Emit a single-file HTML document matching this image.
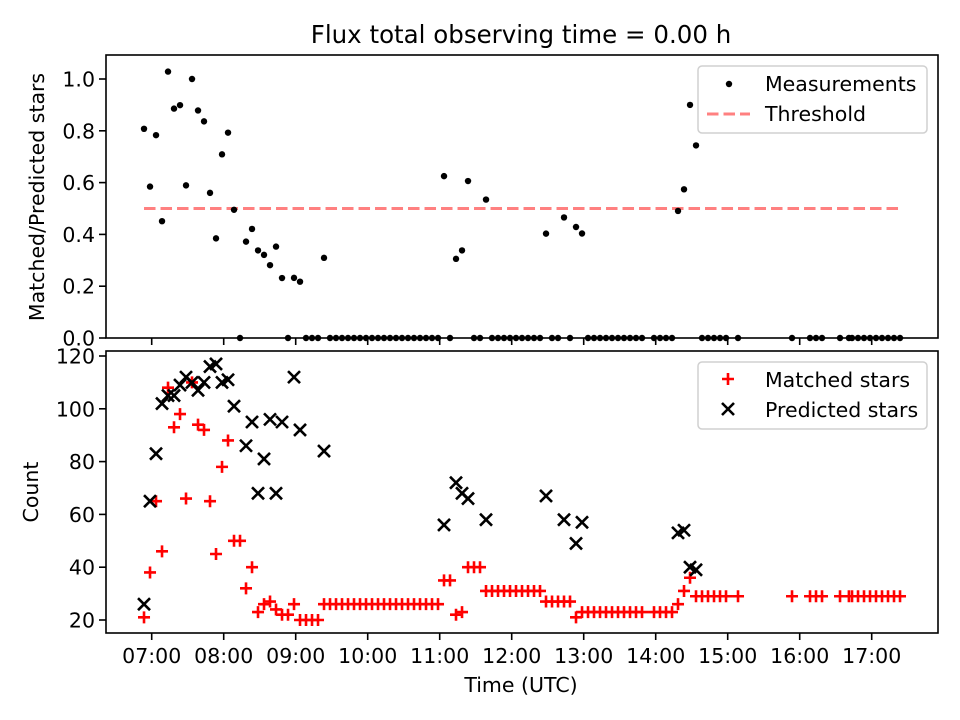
<!DOCTYPE html>
<html><head><meta charset="utf-8"><style>
html,body{margin:0;padding:0;background:#fff;}
svg{display:block;font-family:"DejaVu Sans","Liberation Sans",sans-serif;}
</style></head><body>
<svg id="chart" width="960" height="720" viewBox="0 0 960 720">
<rect width="960" height="720" fill="#fff"/>
<text x="521" y="43" font-size="24.5" text-anchor="middle">Flux total observing time = 0.00 h</text>
<g id="top"></g>
<g id="bottom"></g>
<text x="521" y="692" font-size="20.5" text-anchor="middle">Time (UTC)</text>
<text transform="translate(44,197) rotate(-90)" font-size="20.5" text-anchor="middle">Matched/Predicted stars</text>
<text transform="translate(38,492) rotate(-90)" font-size="20.5" text-anchor="middle">Count</text>
</svg>
<script>
// times in minutes after midnight (UTC)
const times = [413.6,418.6,423.6,428.6,433.6,438.6,443.6,448.6,453.6,458.6,463.6,468.6,473.6,478.6,483.6,488.6,493.6,498.6,503.6,508.6,513.6,518.6,523.6,528.6,533.6,538.6,543.6,548.6,553.6,558.6,563.6,
568.6,573.6,578.6,583.6,588.6,593.6,598.6,603.6,608.6,613.6,618.6,623.6,628.6,633.6,638.6,643.6,648.6,653.6,658.6,
663.6,668.6,673.6,678.6,683.6,688.6,693.6,698.6,703.6,708.6,713.6,718.6,723.6,728.6,733.6,738.6,743.6,748.6,753.6,758.6,763.6,768.6,773.6,778.6,783.6,788.6,793.6,798.6,803.6,808.6,813.6,818.6,823.6,828.6,
838.6,843.6,848.6,853.6,858.6,863.6,868.6,873.6,878.6,883.6,888.6,893.6,898.6,908.6,953.6,968.6,973.6,978.6,993.6,1001,1003.6,1008.6,1013.6,1018.6,1023.6,1028.6,1033.6,1038.6,1043.6];
const matched = [21,38,65,46,108,93,98,66,110,94,92,65,45,78,88,50,50,32,40,23,26,27,24,22,22,26,20,20,20,20,26,
26,26,26,26,26,26,26,26,26,26,26,26,26,26,26,26,26,26,26,
35,35,22,23,40,40,40,31,31,31,31,31,31,31,31,31,31,27,27,27,27,27,21,23,23,23,23,23,23,23,23,23,23,23,
23,23,23,23,26,31,36,29,29,29,29,29,29,29,29,29,29,29,29,29,29,29,29,29,29,29,29,29,29,29];
const predicted = [26,65,83,102,105,105,109,112,110,107,110,116,117,110,111,101,null,86,95,68,81,96,68,95,null,112,92,null,null,null,84,
null,null,null,null,null,null,null,null,null,null,null,null,null,null,null,null,null,null,null,
56,null,72,68,66,null,null,58,null,null,null,null,null,null,null,null,null,67,null,null,58,null,49,57,null,null,null,null,null,null,null,null,null,null,
null,null,null,null,53,54,40,39,null,null,null,null,null,null,null,null,null,null,null,null,null,null,null,null,null,null,null,null,null,null];
const threshold = [0.5];
const xTickLabels = ["07:00","08:00","09:00","10:00","11:00","12:00","13:00","14:00","15:00","16:00","17:00"];
const xTickMinutes = [420,480,540,600,660,720,780,840,900,960,1020];
const topYTicks = [0.0,0.2,0.4,0.6,0.8,1.0];
const botYTicks = [20,40,60,80,100,120];

const NS="http://www.w3.org/2000/svg";
const L=106,R=938;
const TT=55,TB=338,BT=351,BB=633;
const FS=20.5;
const xs = m => 151.7 + (m-420)*1.2;
const yTop = v => 338 - v*259;
const yBot = v => 620 - (v-20)*2.64;
function mk(tag,attrs,parent){const e=document.createElementNS(NS,tag);for(const k in attrs)e.setAttribute(k,attrs[k]);parent.appendChild(e);return e;}
const gT=document.getElementById('top'), gB=document.getElementById('bottom');

const th = mk('line',{x1:xs(times[0]),x2:xs(times[times.length-1]),y1:yTop(threshold[0]),y2:yTop(threshold[0]),stroke:'#ff8080','stroke-width':3,'stroke-dasharray':'11.5 5'},gT);



times.forEach((t,i)=>{
  const r = predicted[i]==null ? 0 : matched[i]/predicted[i];
  const c = mk('circle',{cx:xs(t),cy:yTop(r),r:3.2,fill:'#000'},gT);
  
  
});

times.forEach((t,i)=>{
  const x=xs(t),y=yBot(matched[i]);
  const p=mk('path',{d:`M${x-6},${y}H${x+6}M${x},${y-6}V${y+6}`,stroke:'#ff0000','stroke-width':2.6,fill:'none'},gB);
  
  
});
times.forEach((t,i)=>{
  if(predicted[i]==null)return;
  const x=xs(t),y=yBot(predicted[i]);
  const p=mk('path',{d:`M${x-6},${y-6}L${x+6},${y+6}M${x-6},${y+6}L${x+6},${y-6}`,stroke:'#000','stroke-width':2.6,fill:'none'},gB);
  
  
});

[[gT,TT,TB],[gB,BT,BB]].forEach(([g,t,b],k)=>{
  const f=mk('rect',{x:L,y:t,width:R-L,height:b-t,fill:'none',stroke:'#000','stroke-width':1.6},g);
  
  
  xTickMinutes.forEach((m,i)=>{
    const tk=mk('line',{x1:xs(m),x2:xs(m),y1:b,y2:b+7,stroke:'#000','stroke-width':1.6},g);
    
    
    if(k){
      const tx=mk('text',{x:xs(m),y:b+30,'font-size':FS,'text-anchor':'middle'},g);
      tx.textContent=xTickLabels[i];
      
      
    }
  });
});
topYTicks.forEach(v=>{
  const y=yTop(v);
  const tk=mk('line',{x1:L-7,x2:L,y1:y,y2:y,stroke:'#000','stroke-width':1.6},gT);
  
  
  const tx=mk('text',{x:L-11,y:y+7.5,'font-size':FS,'text-anchor':'end'},gT);
  tx.textContent=v.toFixed(1);
  
  
});
botYTicks.forEach(v=>{
  const y=yBot(v);
  const tk=mk('line',{x1:L-7,x2:L,y1:y,y2:y,stroke:'#000','stroke-width':1.6},gB);
  
  
  const tx=mk('text',{x:L-11,y:y+7.5,'font-size':FS,'text-anchor':'end'},gB);
  tx.textContent=String(v);
  
  
});

function legendBox(g,y0,name){
  const r=mk('rect',{x:698,y:y0,width:229,height:67,rx:4,fill:'#fff','fill-opacity':0.8,stroke:'#d0d0d0','stroke-width':1.5},g);
  
  
}
function legText(g,y,s){
  const t=mk('text',{x:765,y:y,'font-size':FS},g);
  t.textContent=s;
  
  
}
legendBox(gT,66,'top-legend');
const ld=mk('circle',{cx:729,cy:84,r:3.2,fill:'#000'},gT);


legText(gT,91,'Measurements');
const ll=mk('line',{x1:707,x2:750,y1:114,y2:114,stroke:'#ff8080','stroke-width':3,'stroke-dasharray':'11.5 5'},gT);


legText(gT,121,'Threshold');

legendBox(gB,362,'bottom-legend');
const lp=mk('path',{d:'M722,379H734M728,373V385',stroke:'#ff0000','stroke-width':2.6},gB);


legText(gB,387,'Matched stars');
const lx=mk('path',{d:'M722,403L734,415M722,415L734,403',stroke:'#000','stroke-width':2.6},gB);


legText(gB,417,'Predicted stars');
</script>
</body></html>
